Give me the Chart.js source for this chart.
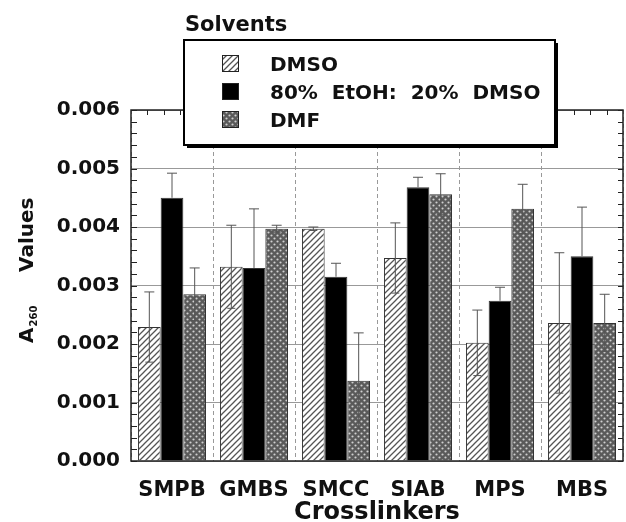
<!DOCTYPE html>
<html>
<head>
<meta charset="utf-8">
<script src="https://cdn.jsdelivr.net/npm/chart.js@4/dist/chart.umd.min.js"></script>
<style>
  html, body { margin: 0; padding: 0; background: #fff; }
  canvas { display: block; }
</style>
</head>
<body>
<canvas id="chart" width="626" height="522"></canvas>
<script>
// values (A260)
const crosslinkers = ["SMPB", "GMBS", "SMCC", "SIAB", "MPS", "MBS"];
const solvents = ["DMSO", "80%  EtOH:  20%  DMSO", "DMF"];

const dmso    = [0.00229, 0.00332, 0.00397, 0.00347, 0.00202, 0.00236];
const dmsoErr = [0.00060, 0.00071, 0.00003, 0.00060, 0.00056, 0.00120];

const etoh    = [0.00450, 0.00330, 0.00315, 0.00468, 0.00274, 0.00350];
const etohErr = [0.00042, 0.00101, 0.00023, 0.00017, 0.00023, 0.00084];

const dmf     = [0.00285, 0.00397, 0.00137, 0.00456, 0.00431, 0.00236];
const dmfErr  = [0.00045, 0.00006, 0.00082, 0.00035, 0.00042, 0.00049];

const yTicks = [0, 0.001, 0.002, 0.003, 0.004, 0.005, 0.006];

const FONT = "DejaVu Sans";
Chart.defaults.font.family = FONT;

function hatchPattern() {
    let c = document.createElement("canvas");
    c.width = 6; c.height = 6;
    let g = c.getContext("2d");
    g.fillStyle = "#fff";
    g.fillRect(0, 0, 6, 6);
    g.strokeStyle = "#555";
    g.lineWidth = 1.3;
    g.beginPath();
    g.moveTo(-1, 7); g.lineTo(7, -1);
    g.moveTo(-1, 1); g.lineTo(1, -1);
    g.moveTo(5, 7); g.lineTo(7, 5);
    g.stroke();
    return g.createPattern(c, "repeat");
}

function dotPattern() {
    let c = document.createElement("canvas");
    c.width = 6; c.height = 6;
    let g = c.getContext("2d");
    g.fillStyle = "#5a5a5a";
    g.fillRect(0, 0, 6, 6);
    g.fillStyle = "#d0d0d0";
    g.beginPath();
    g.arc(1.5, 1.5, 1.1, 0, Math.PI * 2);
    g.arc(4.5, 4.5, 1.1, 0, Math.PI * 2);
    g.fill();
    return g.createPattern(c, "repeat");
}

const fills = [hatchPattern(), "#000", dotPattern()];
const errors = [dmsoErr, etohErr, dmfErr];

// error bars on top of the bars (the part inside the black bars stays hidden)
const errorBars = {
    id: "errorBars",
    afterDatasetsDraw(chart) {
        let ctx = chart.ctx;
        let y = chart.scales.y;
        ctx.save();
        ctx.strokeStyle = "#555";
        ctx.lineWidth = 1;
        chart.data.datasets.forEach((ds, d) => {
            chart.getDatasetMeta(d).data.forEach((bar, i) => {
                let v = ds.data[i];
                let e = errors[d][i];
                let top = y.getPixelForValue(v + e);
                let bot = y.getPixelForValue(v - e);
                ctx.beginPath();
                ctx.moveTo(bar.x, top);
                ctx.lineTo(bar.x, d === 1 ? bar.y : bot);
                ctx.moveTo(bar.x - 5, top);
                ctx.lineTo(bar.x + 5, top);
                if (d !== 1) {
                    ctx.moveTo(bar.x - 4, bot);
                    ctx.lineTo(bar.x + 4, bot);
                }
                ctx.stroke();
            });
        });
        ctx.restore();
    }
};

// frame, inner ticks, y title, legend box
const decor = {
    id: "decor",
    afterDraw(chart) {
        let ctx = chart.ctx;
        let a = chart.chartArea;
        let y = chart.scales.y;
        ctx.save();

        ctx.strokeStyle = "#222";
        ctx.lineWidth = 1;
        ctx.beginPath();
        for (let v = 0; v <= 0.006 + 1e-9; v += 0.0002) {
            let py = Math.round(y.getPixelForValue(v)) + 0.5;
            ctx.moveTo(a.left, py); ctx.lineTo(a.left + 6, py);
            ctx.moveTo(a.right, py); ctx.lineTo(a.right - 5, py);
        }
        let step = (a.right - a.left) / (crosslinkers.length * 5);
        for (let k = 1; k < crosslinkers.length * 5; k++) {
            let px = Math.round(a.left + k * step) + 0.5;
            ctx.moveTo(px, a.top); ctx.lineTo(px, a.top + 5);
        }
        ctx.stroke();

        ctx.lineWidth = 1.5;
        ctx.strokeRect(a.left, a.top, a.right - a.left, a.bottom - a.top);

        // y axis title with subscript
        ctx.fillStyle = "#111";
        ctx.translate(33, 343);
        ctx.rotate(-Math.PI / 2);
        ctx.textBaseline = "alphabetic";
        ctx.textAlign = "left";
        ctx.font = "bold 20px " + FONT;
        ctx.fillText("A", 0, 0);
        let wA = ctx.measureText("A").width;
        ctx.font = "bold 10px " + FONT;
        ctx.fillText("260", wA + 1, 4);
        ctx.font = "bold 20px " + FONT;
        ctx.fillText("Values", 71, 0);
        ctx.setTransform(1, 0, 0, 1, 0, 0);

        // legend
        let bx = 184, by = 40, bw = 371, bh = 105;
        ctx.fillStyle = "#000";
        ctx.fillRect(bx + 3, by + 3, bw, bh);
        ctx.fillStyle = "#fff";
        ctx.fillRect(bx, by, bw, bh);
        ctx.strokeStyle = "#000";
        ctx.lineWidth = 2;
        ctx.strokeRect(bx, by, bw, bh);

        ctx.fillStyle = "#111";
        ctx.font = "bold 21px " + FONT;
        ctx.textBaseline = "alphabetic";
        ctx.fillText("Solvents", 185, 31);

        solvents.forEach((name, i) => {
            let ry = 55 + i * 28;
            ctx.fillStyle = fills[i];
            ctx.fillRect(222, ry, 17, 17);
            ctx.strokeStyle = "#222";
            ctx.lineWidth = 1;
            ctx.strokeRect(222.5, ry + 0.5, 16, 16);
            ctx.fillStyle = "#111";
            ctx.font = "bold 20px " + FONT;
            ctx.fillText(name, 270, ry + 16);
        });

        ctx.restore();
    }
};

new Chart(document.getElementById("chart"), {
    type: "bar",
    data: {
        labels: crosslinkers,
        datasets: [
            { label: solvents[0], data: dmso, backgroundColor: fills[0] },
            { label: solvents[1], data: etoh, backgroundColor: fills[1] },
            { label: solvents[2], data: dmf, backgroundColor: fills[2] }
        ]
    },
    options: {
        responsive: false,
        animation: false,
        devicePixelRatio: 1,
        layout: { padding: { left: 0, right: 3, top: 110, bottom: 0 } },
        datasets: {
            bar: {
                categoryPercentage: 0.83,
                barPercentage: 1.0,
                borderColor: "#333",
                borderWidth: 1
            }
        },
        plugins: {
            legend: { display: false },
            tooltip: { enabled: false }
        },
        scales: {
            x: {
                offset: true,
                grid: { color: "#999", lineWidth: 1, drawTicks: false, offset: true },
                border: { display: false, dash: [4, 3] },
                ticks: {
                    autoSkip: false,
                    maxRotation: 0,
                    color: "#111",
                    padding: 17,
                    font: { size: 21, weight: "bold" }
                },
                title: {
                    display: true,
                    text: "Crosslinkers",
                    color: "#111",
                    font: { size: 24, weight: "bold" },
                    padding: { top: 0, bottom: -5 }
                },
                afterFit(s) { s.height = 61; }
            },
            y: {
                min: 0,
                max: 0.006,
                afterBuildTicks(s) { s.ticks = yTicks.map(v => ({ value: v })); },
                grid: { color: "#999", lineWidth: 1, drawTicks: false },
                border: { display: false },
                ticks: {
                    color: "#111",
                    padding: 11,
                    font: { size: 20, weight: "bold" },
                    callback: v => v.toFixed(3)
                },
                afterFit(s) { s.width = 131; }
            }
        }
    },
    plugins: [errorBars, decor]
});
</script>
</body>
</html>
